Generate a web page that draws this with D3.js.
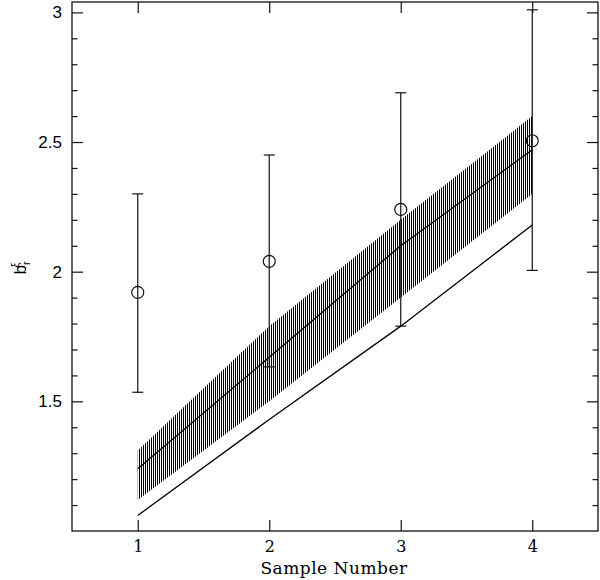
<!DOCTYPE html>
<html>
<head>
<meta charset="utf-8">
<script src="https://cdn.jsdelivr.net/npm/d3@7"></script>
<style>
  body { margin: 0; background: #fff; }
  svg { display: block; }
</style>
</head>
<body>
<div id="chart"></div>
<script>
// sample numbers and measured values
const samples = [1, 2, 3, 4];
const pointValues = [1.92, 2.04, 2.24, 2.505];
const errLow = [1.535, 1.633, 1.79, 2.005];
const errHigh = [2.30, 2.45, 2.69, 3.01];

// model band (hatched) and its central line
const bandTop = [1.31, 1.79, 2.20, 2.60];
const bandMid = [1.24, 1.67, 2.10, 2.47];
const bandBottom = [1.12, 1.50, 1.90, 2.30];
// lower model line
const lowerLine = [1.06, 1.43, 1.79, 2.18];

const yMajor = [1.5, 2, 2.5, 3];

const width = 600, height = 580;
const margin = {left: 72, right: 2, top: 2, bottom: 49};

const svg = d3.select("#chart").append("svg")
    .attr("width", width)
    .attr("height", height);

const x = d3.scaleLinear().domain([0.5, 4.5]).range([margin.left, width - margin.right]);
const y = d3.scaleLinear().domain([1.0, 3.04]).range([height - margin.bottom, margin.top]);

const rows = samples.map((s, i) => ({s, top: bandTop[i], mid: bandMid[i], bot: bandBottom[i], low: lowerLine[i]}));

const area = d3.area()
    .x(d => x(d.s))
    .y0(d => y(d.bot))
    .y1(d => y(d.top));

// hatching: vertical 1px lines every 2px, clipped to the band
svg.append("defs").append("clipPath")
    .attr("id", "bandClip")
    .append("path")
    .datum(rows)
    .attr("d", area);

const x0 = Math.floor(x(samples[0])), x1 = Math.ceil(x(samples[samples.length - 1]));
const yTopPx = Math.floor(y(d3.max(bandTop))), yBotPx = Math.ceil(y(d3.min(bandBottom)));
svg.append("g")
    .attr("clip-path", "url(#bandClip)")
    .selectAll("rect")
    .data(d3.range(x0, x1 + 1, 2))
    .enter().append("rect")
    .attr("x", d => d)
    .attr("y", yTopPx)
    .attr("width", 1)
    .attr("height", yBotPx - yTopPx)
    .attr("fill", "#000")
    .attr("shape-rendering", "crispEdges");

svg.append("path")
    .datum(rows)
    .attr("d", d3.line().x(d => x(d.s)).y(d => y(d.mid)))
    .attr("fill", "none")
    .attr("stroke", "#000")
    .attr("stroke-width", 1.3);

svg.append("path")
    .datum(rows)
    .attr("d", d3.line().x(d => x(d.s)).y(d => y(d.low)))
    .attr("fill", "none")
    .attr("stroke", "#000")
    .attr("stroke-width", 1.3);

// error bars
const pts = samples.map((s, i) => ({s, v: pointValues[i], lo: errLow[i], hi: errHigh[i]}));
const eb = svg.append("g").attr("stroke", "#111").attr("stroke-width", 1.2);
eb.selectAll(".ebar").data(pts).enter().append("line")
    .attr("x1", d => x(d.s)).attr("x2", d => x(d.s))
    .attr("y1", d => y(d.lo)).attr("y2", d => y(d.hi));
eb.selectAll(".capLo").data(pts).enter().append("line")
    .attr("x1", d => x(d.s) - 5.5).attr("x2", d => x(d.s) + 5.5)
    .attr("y1", d => y(d.lo)).attr("y2", d => y(d.lo));
eb.selectAll(".capHi").data(pts).enter().append("line")
    .attr("x1", d => x(d.s) - 5.5).attr("x2", d => x(d.s) + 5.5)
    .attr("y1", d => y(d.hi)).attr("y2", d => y(d.hi));

svg.selectAll(".pt").data(pts).enter().append("circle")
    .attr("cx", d => x(d.s))
    .attr("cy", d => y(d.v))
    .attr("r", 6)
    .attr("fill", "none")
    .attr("stroke", "#111")
    .attr("stroke-width", 1.2);

// axes: ticks pointing inward on all four sides
const plotLeft = margin.left, plotRight = width - margin.right;
const plotTop = margin.top, plotBottom = height - margin.bottom;

const axisLeft = d3.axisLeft(y).tickValues(yMajor).tickSize(-11).tickFormat(d3.format("~g"));
const axisRight = d3.axisRight(y).tickValues(yMajor).tickSize(-11).tickFormat("");
const axisBottom = d3.axisBottom(x).tickValues(samples).tickSize(-11).tickFormat(d3.format("d"));
const axisTop = d3.axisTop(x).tickValues(samples).tickSize(-11).tickFormat("");

const yMinor = d3.range(1.1, 3.04, 0.1).filter(v => Math.abs(v * 2 - Math.round(v * 2)) > 0.01);
const minorLeft = d3.axisLeft(y).tickValues(yMinor).tickSize(-5.5).tickFormat("");
const minorRight = d3.axisRight(y).tickValues(yMinor).tickSize(-5.5).tickFormat("");

function styleAxis(g) {
  g.select(".domain").remove();
  g.selectAll(".tick line").attr("stroke", "#111").attr("stroke-width", 1.2);
}

svg.append("g").attr("transform", `translate(${plotLeft},0)`).call(axisLeft).call(styleAxis)
    .selectAll("text")
    .attr("x", -10)
    .style("font-family", "'Liberation Sans', Arial, sans-serif")
    .style("font-size", "17px")
    .attr("fill", "#000");
svg.append("g").attr("transform", `translate(${plotLeft},0)`).call(minorLeft).call(styleAxis);
svg.append("g").attr("transform", `translate(${plotRight},0)`).call(axisRight).call(styleAxis);
svg.append("g").attr("transform", `translate(${plotRight},0)`).call(minorRight).call(styleAxis);
svg.append("g").attr("transform", `translate(0,${plotBottom})`).call(axisBottom).call(styleAxis)
    .selectAll("text")
    .attr("y", 10)
    .style("font-family", "'DejaVu Serif', serif")
    .style("font-size", "16px")
    .attr("fill", "#000");
svg.append("g").attr("transform", `translate(0,${plotTop})`).call(axisTop).call(styleAxis);

// frame
svg.append("rect")
    .attr("x", plotLeft).attr("y", plotTop)
    .attr("width", plotRight - plotLeft).attr("height", plotBottom - plotTop)
    .attr("fill", "none")
    .attr("stroke", "#111")
    .attr("stroke-width", 1.3);

// axis titles
svg.append("text")
    .attr("x", 334)
    .attr("y", 574)
    .attr("text-anchor", "middle")
    .style("font-family", "'DejaVu Serif', serif")
    .style("font-size", "17px")
    .style("letter-spacing", "0.5px")
    .text("Sample Number");

const ylab = svg.append("text")
    .attr("transform", "translate(26,268) rotate(-90)")
    .attr("text-anchor", "middle")
    .style("font-family", "'Liberation Sans', Arial, sans-serif")
    .style("font-size", "17px");
ylab.append("tspan").text("b");
ylab.append("tspan").attr("dy", 4).style("font-size", "11px").text("r");
ylab.append("tspan").attr("dx", -6).attr("dy", -11).style("font-size", "11px").text("ξ");
</script>
</body>
</html>
